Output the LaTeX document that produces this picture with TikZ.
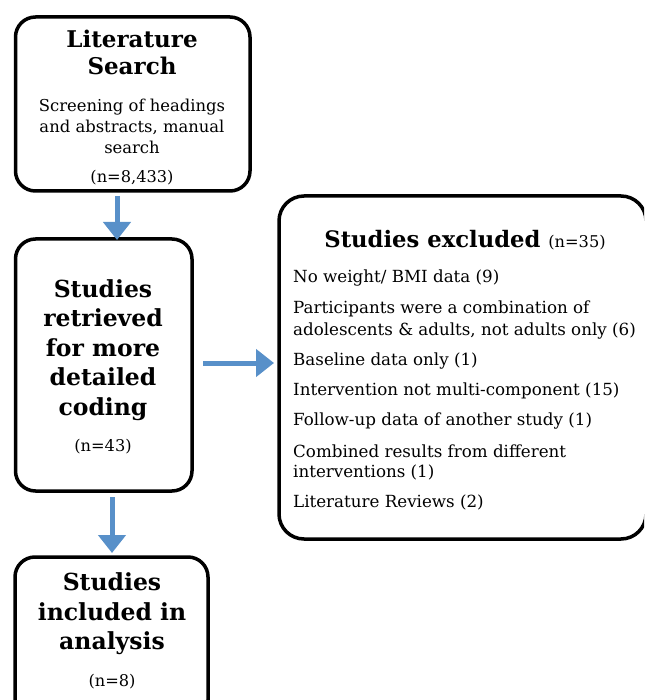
\documentclass[tikz,border=0pt]{standalone}
\usepackage{fontspec}
\setmainfont{DejaVu Serif}
\usetikzlibrary{arrows.meta}
\definecolor{arrowblue}{RGB}{88,144,201}
\begin{document}
\begin{tikzpicture}[x=1pt,y=-1pt,
  box/.style={draw=black, line width=3.5pt, rounded corners=20pt, rectangle, inner sep=0pt, outer sep=0pt, fill=white},
  flowarrow/.style={draw=arrowblue, line width=5pt, -{Triangle[width=27pt,length=18pt]}},
  ttl/.style={font=\fontsize{23.5}{29.5}\selectfont\bfseries, align=center, inner sep=0pt},
  body/.style={font=\fontsize{16.4}{21}\selectfont, align=center, inner sep=0pt},
  cnt/.style={font=\fontsize{16.2}{18}\selectfont, inner sep=0pt},
  itemtext/.style={font=\fontsize{16.7}{21}\selectfont, align=left, inner sep=0pt, anchor=base west}]
\useasboundingbox (0,0) rectangle (644,700);
\clip (0,0) rectangle (644,700);
\fill[white] (0,0) rectangle (644,700);
% boxes
\node[box, minimum width=234.5pt, minimum height=174pt] (b1) at (132.75,104) {};
\node[box, minimum width=176.5pt, minimum height=252pt] (b2) at (103.75,365) {};
\node[box, rounded corners=25pt, minimum width=367pt, minimum height=343pt] (b3) at (462.5,367.5) {};
\node[box, minimum width=193pt, minimum height=163pt] (b4) at (111.5,638.5) {};
% arrows
\coordinate (ax1) at (117,0);
\coordinate (ay2) at (0,363);
\coordinate (ax3) at (112,0);
\draw[flowarrow] ([yshift=-5pt]b1.south -| ax1) -- ([yshift=-1pt]b2.north -| ax1);
\draw[flowarrow] ([xshift=11pt]b2.east |- ay2) -- ([xshift=-5pt]b3.west |- ay2);
\draw[flowarrow] ([yshift=-6pt]b2.south -| ax3) -- ([yshift=4pt]b4.north -| ax3);
% box 1 text
\node[ttl, font=\fontsize{23}{27}\selectfont\bfseries] (t1) at (132,52) {Literature\\Search};
\node[body] (t1b) at (132,126) {Screening of headings\\and abstracts, manual\\search};
\node[cnt] (t1n) at (132,178) {(n=8,433)};
% box 2 text
\node[ttl] (t2) at (103,350) {Studies\\retrieved\\for more\\detailed\\coding};
\node[cnt] (t2n) at (103,447) {(n=43)};
% box 3 text
\node[inner sep=0pt] (t3) at (465,240) {\fontsize{22.7}{29}\selectfont\bfseries Studies excluded {\fontsize{16.2}{18}\selectfont\mdseries (n=35)}};
\node[itemtext] (i1) at (293,282) {No weight/ BMI data (9)};
\node[itemtext] (i2) at (293,313) {Participants were a combination of};
\node[itemtext] (i3) at (293,335) {adolescents \& adults, not adults only (6)};
\node[itemtext] (i4) at (293,365) {Baseline data only (1)};
\node[itemtext] (i5) at (293,395) {Intervention not multi-component (15)};
\node[itemtext] (i6) at (293,425) {Follow-up data of another study (1)};
\node[itemtext] (i7) at (293,457) {Combined results from different};
\node[itemtext] (i8) at (293,477) {interventions (1)};
\node[itemtext] (i9) at (293,507) {Literature Reviews (2)};
% box 4 text
\node[ttl] (t4) at (112,614) {Studies\\included in\\analysis};
\node[cnt] (t4n) at (112,682) {(n=8)};
\end{tikzpicture}
\end{document}
